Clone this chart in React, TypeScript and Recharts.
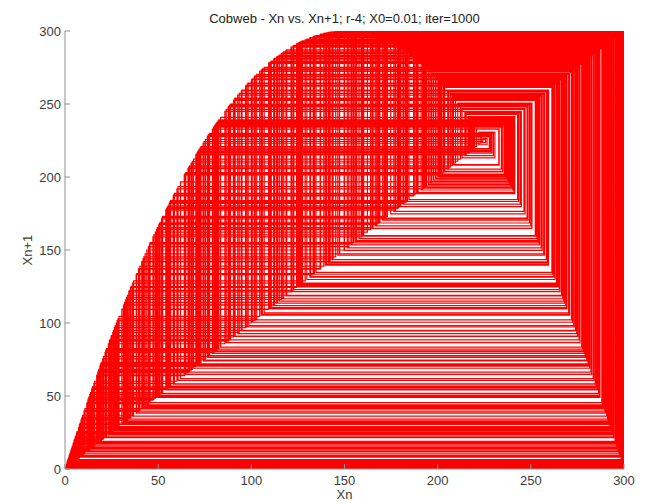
import { LineChart, Line, XAxis, YAxis } from "recharts"

// Logistic map orbit (r = 4), Xn on a 0..300 scale, starting from X0
const orbit = [
  3.0, 11.9, 45.6, 154.8, 299.7, 1.2, 4.9, 19.4, 72.5, 219.9,
  234.9, 203.8, 261.3, 134.7, 296.9, 12.3, 47.2, 159.0, 298.9, 4.3,
  17.0, 64.0, 201.5, 264.7, 124.8, 291.5, 33.0, 117.4, 285.8, 54.1,
  177.3, 290.0, 38.5, 133.9, 296.5, 13.6, 52.2, 172.3, 293.3, 26.0,
  95.0, 259.5, 139.7, 298.6, 5.6, 22.0, 81.3, 237.0, 199.1, 267.7,
  115.0, 283.5, 62.0, 196.7, 270.8, 105.3, 273.3, 97.3, 263.0, 129.8,
  294.5, 21.5, 79.8, 234.2, 205.4, 259.0, 141.4, 299.0, 3.9, 15.5,
  58.7, 188.8, 280.0, 74.6, 224.3, 226.5, 222.1, 230.7, 213.1, 246.9,
  174.8, 291.7, 32.0, 114.1, 282.7, 64.8, 203.0, 262.4, 131.4, 295.4,
  18.2, 68.3, 210.8, 250.6, 164.8, 297.1, 11.7, 44.8, 152.3, 299.9,
  0.3, 1.1, 4.5, 17.8, 66.9, 207.7, 255.6, 151.5, 300.0, 0.1,
  0.5, 1.8, 7.3, 28.5, 102.9, 270.3, 106.9, 275.1, 91.1, 253.7,
  156.5, 299.4, 2.2, 8.9, 34.5, 122.3, 289.7, 39.6, 137.2, 297.8,
  8.6, 33.5, 119.0, 287.1, 49.1, 164.0, 297.4, 10.4, 40.2, 138.9,
  298.4, 6.5, 25.6, 93.5, 257.3, 146.4, 299.8, 0.7, 2.7, 10.7,
  41.3, 142.3, 299.2, 3.2, 12.6, 48.5, 162.3, 298.0, 8.1, 31.5,
  112.5, 281.2, 70.4, 215.3, 242.9, 184.6, 283.9, 60.7, 193.5, 274.6,
  92.7, 256.1, 149.8, 300.0, 0.0, 0.0, 0.0, 0.1, 0.6, 2.4,
  9.5, 36.8, 128.9, 294.0, 23.3, 85.8, 244.9, 179.7, 288.1, 45.4,
  154.0, 299.8, 0.8, 3.4, 13.3, 51.0, 169.0, 295.2, 19.0, 71.1,
  216.8, 240.3, 191.1, 277.3, 83.5, 240.9, 189.5, 279.1, 77.6, 229.9,
  214.6, 244.3, 181.4, 286.8, 50.3, 167.3, 296.0, 15.9, 60.1, 191.9,
  276.4, 86.5, 246.3, 176.5, 290.7, 36.2, 127.3, 293.1, 26.9, 98.1,
  264.1, 126.4, 292.6, 29.0, 104.5, 272.3, 100.5, 267.2, 116.6, 285.0,
  56.7, 183.8, 284.6, 58.1, 187.1, 281.6, 69.0, 212.3, 248.1, 171.5,
  293.8, 24.2, 88.8, 250.0, 166.5, 296.4, 14.4, 54.7, 178.9, 288.7,
  43.0, 147.3, 299.9, 0.4, 1.6, 6.3, 24.7, 90.4, 252.4, 159.8,
  298.7, 5.1, 20.2, 75.4, 225.7, 223.5, 227.9, 219.1, 236.3, 200.7,
  265.7, 121.5, 289.0, 41.9, 143.9, 299.5, 2.0, 7.8, 30.5, 109.3,
  277.8, 82.1, 238.3, 195.9, 271.8, 102.1, 269.2, 110.1, 278.7, 79.1,
  232.8, 208.5, 254.3, 154.8, 299.7, 1.2, 5.0, 19.5, 73.0, 220.9,
  233.0, 208.2, 254.8, 153.5, 299.8, 0.6, 2.6, 10.2, 39.5, 136.9,
  297.7, 9.1, 35.2, 124.3, 291.2, 34.2, 121.3, 289.0, 42.3, 145.3,
  299.7, 1.2, 4.8, 18.7, 70.2, 215.1, 243.5, 183.3, 285.2, 56.4,
  183.2, 285.3, 55.9, 181.9, 286.4, 51.8, 171.3, 293.9, 23.8, 87.6,
  248.0, 171.8, 293.6, 24.9, 91.3, 254.0, 155.8, 299.5, 1.8, 7.2,
  28.0, 101.6, 268.7, 112.0, 280.7, 72.0, 219.0, 236.6, 200.1, 266.5,
  118.9, 287.0, 49.6, 165.3, 296.9, 12.4, 47.7, 160.3, 298.6, 5.7,
  22.3, 82.5, 239.1, 194.0, 274.1, 94.6, 258.9, 141.8, 299.1, 3.6,
  14.3, 54.5, 178.3, 289.3, 41.2, 141.9, 299.1, 3.5, 13.7, 52.4,
  173.0, 293.0, 27.5, 100.0, 266.6, 118.6, 286.8, 50.6, 168.0, 295.7,
  17.1, 64.3, 202.1, 263.8, 127.4, 293.2, 26.5, 96.9, 262.3, 131.8,
  295.5, 17.6, 66.0, 205.8, 258.3, 143.4, 299.4, 2.3, 9.1, 35.4,
  125.0, 291.6, 32.6, 116.1, 284.6, 58.3, 187.8, 281.0, 71.2, 217.2,
  239.8, 192.4, 275.9, 88.4, 249.3, 168.5, 295.4, 18.0, 67.7, 209.6,
  252.6, 159.5, 298.8, 4.8, 18.9, 70.8, 216.3, 241.4, 188.6, 280.2,
  74.1, 223.1, 228.7, 217.3, 239.5, 193.0, 275.2, 90.8, 253.2, 157.8,
  299.2, 3.3, 12.9, 49.5, 165.0, 297.0, 11.9, 45.7, 155.0, 299.7,
  1.3, 5.3, 20.7, 77.1, 229.1, 216.4, 241.1, 189.2, 279.5, 76.4,
  227.7, 219.4, 235.8, 202.0, 264.0, 126.8, 292.8, 28.1, 101.9, 269.1,
  110.7, 279.4, 76.7, 228.3, 218.1, 237.9, 196.9, 270.6, 105.9, 274.0,
  94.9, 259.4, 140.4, 298.8, 4.9, 19.2, 71.9, 218.7, 237.1, 198.8,
  268.2, 113.6, 282.3, 66.4, 206.8, 256.9, 147.4, 299.9, 0.3, 1.4,
  5.5, 21.8, 80.7, 235.9, 201.6, 264.4, 125.5, 292.0, 31.4, 112.2,
  280.9, 71.5, 217.8, 238.7, 195.0, 273.0, 98.3, 264.3, 125.8, 292.2,
  30.6, 109.6, 278.2, 80.9, 236.2, 201.0, 265.3, 122.8, 290.1, 38.2,
  133.2, 296.2, 14.8, 56.3, 182.8, 285.6, 54.9, 179.2, 288.5, 43.9,
  150.0, 300.0, 0.0, 0.0, 0.0, 0.0, 0.0, 0.1, 0.4, 1.5,
  6.1, 23.9, 87.9, 248.5, 170.5, 294.4, 22.0, 81.6, 237.5, 197.8,
  269.4, 109.7, 278.4, 80.2, 235.0, 203.5, 261.7, 133.4, 296.3, 14.5,
  55.3, 180.2, 287.7,
]

const xTicks = [0, 50, 100, 150, 200, 250, 300]
const yTicks = [0, 50, 100, 150, 200, 250, 300]

const titleText = "Cobweb - Xn vs. Xn+1; r-4; X0=0.01; iter=1000"

// cobweb path: up/down to the curve, then across to the diagonal
const path: { x: number; y: number }[] = [{ x: orbit[0], y: 0 }]
for (let i = 0; i < orbit.length - 1; i++) {
  path.push({ x: orbit[i], y: orbit[i + 1] })
  path.push({ x: orbit[i + 1], y: orbit[i + 1] })
}

const AXIS = "#8f8f8f"
const INK = "#3c3c3c"
const FONT = "'Liberation Sans', Arial, sans-serif"
const TICK = 5

function BottomTick({ x, y, payload }: any) {
  // tickSize 0 + tickMargin 6 -> axis line is 6px above y
  return (
    <g>
      <line x1={x} x2={x} y1={y - 6} y2={y - 6 - TICK} stroke={AXIS} />
      <text x={x} y={y} dy="0.74em" textAnchor="middle" fill={INK} fontSize={13} fontFamily={FONT}>
        {payload.value}
      </text>
    </g>
  )
}

function LeftTick({ x, y, payload }: any) {
  return (
    <g>
      <line x1={x + 4} x2={x + 4 + TICK} y1={y} y2={y} stroke={AXIS} />
      <text x={x} y={y} dy="0.36em" textAnchor="end" fill={INK} fontSize={13} fontFamily={FONT}>
        {payload.value}
      </text>
    </g>
  )
}

function TopTick({ x, y }: any) {
  return <line x1={x} x2={x} y1={y} y2={y + TICK} stroke={AXIS} />
}

function RightTick({ x, y }: any) {
  return <line x1={x} x2={x - TICK} y1={y} y2={y} stroke={AXIS} />
}

// rotated y-axis title, centred on the plot height
function YTitle({ viewBox }: any) {
  const cx = viewBox.x + 27
  const cy = viewBox.y + viewBox.height / 2
  return (
    <text
      x={cx}
      y={cy}
      transform={`rotate(-90 ${cx} ${cy})`}
      textAnchor="middle"
      fill={INK}
      fontSize={13}
      fontFamily={FONT}
    >
      Xn+1
    </text>
  )
}

export default function App() {
  return (
    <div style={{ position: "absolute", left: 0, top: 0, width: 646, height: 504, background: "#fff" }}>
      <div
        style={{
          position: "absolute",
          left: 65,
          top: 11,
          width: 559,
          textAlign: "center",
          fontFamily: FONT,
          fontSize: 13,
          lineHeight: "16px",
          color: "#222",
        }}
      >
        {titleText}
      </div>
      <LineChart width={646} height={504} data={path} margin={{ top: 31, right: 22, bottom: 5, left: 5 }}>
        <XAxis
          dataKey="x"
          type="number"
          domain={[0, 300]}
          ticks={xTicks}
          allowDataOverflow
          height={30}
          tickSize={0}
          tickMargin={6}
          stroke={AXIS}
          tick={<BottomTick />}
          label={{ value: "Xn", position: "insideBottom", offset: 0, fill: INK, fontSize: 13, fontFamily: FONT }}
        />
        <XAxis
          xAxisId="top"
          orientation="top"
          type="number"
          domain={[0, 300]}
          ticks={xTicks}
          height={0}
          tickSize={0}
          tickMargin={0}
          stroke={AXIS}
          tick={<TopTick />}
        />
        <YAxis
          type="number"
          domain={[0, 300]}
          ticks={yTicks}
          allowDataOverflow
          width={60}
          tickSize={0}
          tickMargin={4}
          stroke={AXIS}
          tick={<LeftTick />}
          label={{ content: <YTitle /> }}
        />
        <YAxis
          yAxisId="right"
          orientation="right"
          type="number"
          domain={[0, 300]}
          ticks={yTicks}
          width={0}
          tickSize={0}
          tickMargin={0}
          stroke={AXIS}
          tick={<RightTick />}
        />
        <Line
          type="linear"
          dataKey="y"
          stroke="#ff0000"
          strokeWidth={1.2}
          dot={false}
          activeDot={false}
          isAnimationActive={false}
        />
      </LineChart>
    </div>
  )
}
